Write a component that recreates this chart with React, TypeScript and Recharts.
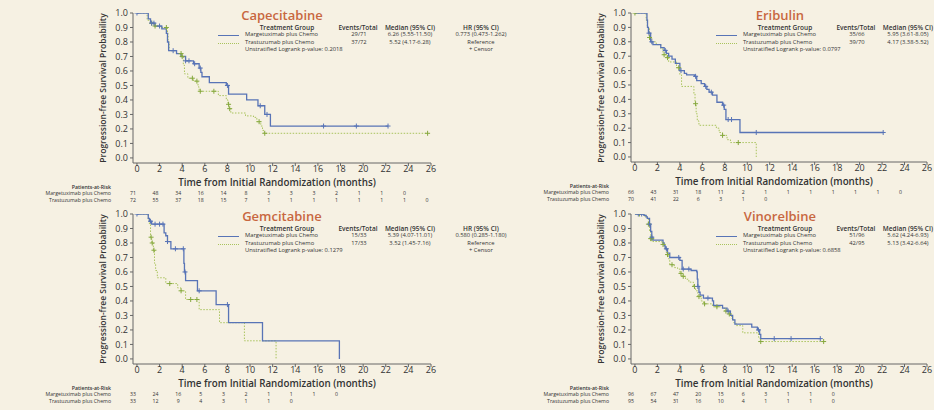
import React from "react";
import { ComposedChart, Line, Scatter, XAxis, YAxis } from "recharts";

const FONT = "'Open Sans', sans-serif";
const BLUE = "#5874b6";
const GREEN = "#a9c35c";
const GREEN_DARK = "#86a83e";
const TITLE = "#c8673f";
const INK = "#333333";

const monthTicks = [0, 2, 4, 6, 8, 10, 12, 14, 16, 18, 20, 22, 24, 26];
const probTicks = [0, 0.1, 0.2, 0.3, 0.4, 0.5, 0.6, 0.7, 0.8, 0.9, 1.0];

// Capecitabine
const capMargTime = [0, 1.0, 1.2, 1.6, 2.2, 2.6, 2.7, 2.8, 3.5, 3.9, 4.3, 5.0, 5.5, 5.65, 5.75, 6.4, 7.9, 8.1, 9.7, 10.7, 11.3, 11.8, 22.2];
const capMargSurv = [1.0, 0.96, 0.93, 0.91, 0.89, 0.86, 0.8, 0.74, 0.72, 0.7, 0.67, 0.65, 0.62, 0.59, 0.56, 0.52, 0.5, 0.44, 0.4, 0.36, 0.3, 0.22, 0.22];
const capMargCensor = [0, 1.3, 1.5, 2.0, 3.2, 4.3, 4.6, 5.1, 5.6, 8.0, 10.9, 11.5, 16.5, 19.4, 22.2];
const capTrasTime = [0, 0.9, 1.2, 1.5, 2.0, 2.7, 2.75, 2.85, 3.5, 4.0, 4.1, 4.2, 4.5, 5.0, 5.4, 5.5, 7.2, 7.9, 8.05, 8.15, 8.3, 9.6, 10.3, 10.6, 10.95, 11.1, 11.25, 25.7];
const capTrasSurv = [1.0, 0.95, 0.93, 0.91, 0.9, 0.86, 0.8, 0.74, 0.72, 0.7, 0.64, 0.58, 0.55, 0.53, 0.49, 0.46, 0.43, 0.4, 0.37, 0.34, 0.31, 0.29, 0.28, 0.25, 0.22, 0.19, 0.17, 0.17];
const capTrasCensor = [1.3, 1.6, 2.6, 3.9, 4.0, 4.9, 5.3, 5.6, 6.8, 8.1, 8.2, 10.8, 11.3, 25.7];
const capRiskMarg = [71, 48, 34, 16, 14, 8, 3, 3, 3, 2, 1, 1, 0];
const capRiskTras = [72, 55, 37, 18, 15, 7, 1, 1, 1, 1, 1, 1, 1, 0];
const capEvents = ["29/71", "37/72"];
const capMedian = ["6.26 (5.55-11.50)", "5.52 (4.17-6.28)"];
const capHR = ["0.773 (0.473-1.262)", "Reference"];

// Eribulin
const eriMargTime = [0, 1.07, 1.12, 1.2, 1.4, 1.6, 2.3, 2.6, 2.8, 3.0, 3.3, 3.6, 4.0, 4.4, 4.6, 5.3, 5.5, 5.9, 6.2, 6.4, 6.6, 6.9, 7.3, 7.8, 7.95, 8.1, 9.35, 22.1];
const eriMargSurv = [1.0, 0.95, 0.9, 0.86, 0.8, 0.78, 0.76, 0.74, 0.72, 0.7, 0.68, 0.65, 0.6, 0.58, 0.57, 0.56, 0.53, 0.51, 0.49, 0.47, 0.45, 0.43, 0.38, 0.36, 0.33, 0.26, 0.17, 0.17];
const eriMargCensor = [1.25, 1.5, 2.7, 4.1, 5.4, 6.3, 6.8, 7.9, 8.3, 8.6, 10.8, 22.1];
const eriTrasTime = [0, 1.0, 1.1, 1.3, 1.5, 1.9, 2.3, 2.5, 2.8, 3.0, 3.7, 4.0, 4.15, 5.25, 5.35, 5.45, 5.55, 5.7, 7.25, 7.5, 7.8, 8.2, 8.5, 10.8];
const eriTrasSurv = [1.0, 0.95, 0.9, 0.83, 0.8, 0.78, 0.75, 0.71, 0.69, 0.66, 0.62, 0.57, 0.49, 0.44, 0.37, 0.3, 0.25, 0.22, 0.2, 0.17, 0.15, 0.12, 0.1, 0.0];
const eriTrasCensor = [0, 1.3, 2.6, 2.9, 3.9, 5.4, 7.8, 9.2];
const eriRiskMarg = [66, 43, 31, 18, 11, 2, 1, 1, 1, 1, 1, 1, 0];
const eriRiskTras = [70, 41, 22, 6, 3, 1, 0];
const eriEvents = ["35/66", "39/70"];
const eriMedian = ["5.95 (3.61-8.05)", "4.17 (3.38-5.52)"];
const eriHR = ["0.686 (0.428-1.099)", "Reference"];

// Gemcitabine
const gemMargTime = [0, 1.0, 1.1, 1.3, 2.4, 2.55, 2.7, 3.0, 4.15, 4.2, 4.3, 5.35, 7.0, 8.1, 11.1, 17.9];
const gemMargSurv = [1.0, 0.97, 0.95, 0.93, 0.87, 0.85, 0.81, 0.76, 0.66, 0.6, 0.54, 0.47, 0.375, 0.25, 0.125, 0.0];
const gemMargCensor = [0, 1.2, 1.6, 2.0, 2.3, 2.7, 3.4, 4.1, 4.25, 5.5, 8.0];
const gemTrasTime = [0, 1.0, 1.1, 1.2, 1.3, 1.45, 1.55, 1.65, 1.8, 2.55, 3.6, 3.9, 4.3, 5.5, 7.3, 9.5, 12.3];
const gemTrasSurv = [1.0, 0.96, 0.93, 0.84, 0.8, 0.75, 0.66, 0.61, 0.56, 0.52, 0.49, 0.47, 0.41, 0.34, 0.25, 0.125, 0.0];
const gemTrasCensor = [1.25, 1.35, 1.5, 2.9, 3.9, 4.75, 5.3];
const gemRiskMarg = [33, 24, 16, 5, 3, 2, 1, 1, 1, 0];
const gemRiskTras = [33, 12, 9, 4, 3, 1, 1, 0];
const gemEvents = ["15/33", "17/33"];
const gemMedian = ["5.39 (4.07-11.01)", "3.52 (1.45-7.16)"];
const gemHR = ["0.580 (0.285-1.180)", "Reference"];

// Vinorelbine
const vinMargTime = [0, 0.8, 1.0, 1.1, 1.3, 1.4, 1.5, 1.6, 2.5, 2.6, 2.7, 2.9, 3.1, 4.0, 4.2, 5.0, 5.5, 5.55, 5.6, 5.7, 5.8, 6.1, 6.9, 7.0, 7.8, 8.2, 8.5, 8.7, 8.9, 10.4, 10.9, 11.1, 11.2, 16.5];
const vinMargSurv = [1.0, 0.99, 0.98, 0.97, 0.93, 0.88, 0.84, 0.82, 0.8, 0.78, 0.76, 0.73, 0.7, 0.68, 0.62, 0.61, 0.6, 0.55, 0.5, 0.46, 0.44, 0.42, 0.4, 0.37, 0.35, 0.33, 0.3, 0.27, 0.24, 0.22, 0.2, 0.17, 0.14, 0.14];
const vinMargCensor = [0.3, 0.6, 1.3, 1.5, 2.8, 3.9, 4.3, 4.8, 5.6, 6.5, 8.3, 11.0, 12.4, 13.9, 16.5];
const vinTrasTime = [0, 0.9, 1.1, 1.2, 1.3, 1.4, 1.6, 2.4, 2.7, 2.8, 3.0, 3.1, 3.5, 3.8, 4.0, 4.2, 4.5, 4.8, 5.2, 5.4, 5.6, 5.9, 6.1, 6.9, 7.8, 8.0, 8.3, 8.6, 8.8, 9.0, 9.6, 11.0, 11.15, 16.8];
const vinTrasSurv = [1.0, 0.98, 0.97, 0.93, 0.88, 0.83, 0.81, 0.79, 0.76, 0.72, 0.69, 0.65, 0.63, 0.62, 0.59, 0.57, 0.55, 0.53, 0.5, 0.47, 0.43, 0.4, 0.38, 0.36, 0.35, 0.33, 0.31, 0.28, 0.25, 0.23, 0.18, 0.15, 0.12, 0.12];
const vinTrasCensor = [0.4, 1.2, 1.4, 1.5, 2.5, 2.9, 3.3, 4.1, 4.3, 5.3, 5.7, 6.2, 7.3, 8.1, 8.4, 11.2, 16.8];
const vinRiskMarg = [96, 67, 47, 20, 15, 6, 3, 1, 1, 0];
const vinRiskTras = [95, 54, 31, 16, 10, 4, 1, 1, 1, 0];
const vinEvents = ["51/96", "42/95"];
const vinMedian = ["5.62 (4.24-6.93)", "5.13 (3.42-6.64)"];
const vinHR = ["1.083 (0.716-1.637)", "Reference"];

const steps = (time: number[], surv: number[]) => time.map((t, i) => ({ t, s: surv[i] }));
const censors = (marks: number[], time: number[], surv: number[]) =>
  marks.map((m) => {
    let idx = 0;
    time.forEach((t, i) => {
      if (t <= m) idx = i;
    });
    return { t: m, s: surv[idx] };
  });

const W = 467;
const H = 205;
const YW = 30; // room for y tick labels
const XH = 14; // room for x tick labels

const plus = (color: string) => (props: any) => {
  const { cx, cy } = props;
  return <path d={`M${cx - 2.5},${cy}h5M${cx},${cy - 2.5}v5`} stroke={color} strokeWidth={1} fill="none" />;
};

const Txt = ({ x, y, size, align = "left", bold = false, color = INK, children }: any) => (
  <div
    style={{
      position: "absolute",
      left: x,
      top: y,
      transform: `translate(${align === "center" ? "-50%" : align === "right" ? "-100%" : "0"}, -50%)`,
      whiteSpace: "nowrap",
      fontSize: size,
      fontWeight: bold ? 600 : 400,
      color,
      lineHeight: 1,
    }}
  >
    {children}
  </div>
);

const KMPanel = ({ frame, title, mt, ms, mc, tt, ts, tc, riskM, riskT, events, median, hr, pval }: any) => {
  const { left, top, axisX, rightX, topY, bottomY } = frame;
  const ppm = (rightX - axisX) / 26.35;
  const tx = (t: number) => axisX + (t + 0.35) * ppm;
  const x0 = tx(0);
  const rowY = [topY + 22, topY + 29.5, topY + 37];
  const riskY = [bottomY + 24.5, bottomY + 31, bottomY + 37.5];
  return (
    <div style={{ position: "absolute", left, top, width: W, height: H }}>
      <ComposedChart
        width={W}
        height={H}
        margin={{ left: axisX - YW, right: W - rightX, top: topY, bottom: H - bottomY - XH }}
      >
        <XAxis
          type="number"
          dataKey="t"
          domain={[-0.35, 26]}
          allowDataOverflow
          ticks={monthTicks}
          interval={0}
          height={XH}
          tickSize={3}
          tickMargin={0}
          stroke="#666"
          tick={{ fontSize: 9, fill: INK, fontFamily: FONT }}
        />
        <YAxis
          type="number"
          domain={[-0.035, 1]}
          allowDataOverflow
          ticks={probTicks}
          interval={0}
          width={YW}
          tickSize={3}
          stroke="#666"
          tickFormatter={(v: number) => v.toFixed(1)}
          tick={{ fontSize: 9, fill: INK, fontFamily: FONT }}
        />
        <Line data={steps(tt, ts)} dataKey="s" type="stepAfter" stroke={GREEN} strokeWidth={1} strokeDasharray="1.5 1.5" dot={false} isAnimationActive={false} />
        <Line data={steps(mt, ms)} dataKey="s" type="stepAfter" stroke={BLUE} strokeWidth={1.3} dot={false} isAnimationActive={false} />
        <Scatter data={censors(tc, tt, ts)} dataKey="s" shape={plus(GREEN_DARK)} isAnimationActive={false} />
        <Scatter data={censors(mc, mt, ms)} dataKey="s" shape={plus(BLUE)} isAnimationActive={false} />
      </ComposedChart>

      <div
        style={{
          position: "absolute",
          left: axisX - 31,
          top: (topY + bottomY) / 2,
          transform: "translate(-50%, -50%) rotate(-90deg)",
          whiteSpace: "nowrap",
          fontSize: 8.5,
          fontWeight: 600,
          color: INK,
        }}
      >
        Progression-free Survival Probability
      </div>
      <Txt x={(axisX + rightX) / 2 - 5} y={bottomY + 19.5} size={9.8} bold align="center">
        Time from Initial Randomization (months)
      </Txt>

      <Txt x={x0 + 145} y={topY + 2} size={13} bold align="center" color={TITLE}>
        {title}
      </Txt>
      <Txt x={x0 + 150} y={topY + 14.5} size={6.5} bold align="center">Treatment Group</Txt>
      <Txt x={x0 + 221} y={topY + 14.5} size={6.5} bold align="center">Events/Total</Txt>
      <Txt x={x0 + 273} y={topY + 14.5} size={6.5} bold align="center">Median (95% CI)</Txt>
      <Txt x={x0 + 344} y={topY + 14.5} size={6.5} bold align="center">HR (95% CI)</Txt>
      <div style={{ position: "absolute", left: x0 + 81, top: rowY[0], width: 21, borderTop: `1.3px solid ${BLUE}` }} />
      <div style={{ position: "absolute", left: x0 + 81, top: rowY[1], width: 21, borderTop: `1px dotted ${GREEN}` }} />
      <Txt x={x0 + 108} y={rowY[0]} size={5.8}>Margetuximab plus Chemo</Txt>
      <Txt x={x0 + 108} y={rowY[1]} size={5.8}>Trastuzumab plus Chemo</Txt>
      <Txt x={x0 + 108} y={rowY[2]} size={5.8}>Unstratified Logrank p-value: {pval}</Txt>
      {events.map((e: string, i: number) => (
        <Txt key={"e" + i} x={x0 + 222} y={rowY[i]} size={5.8} align="center">{e}</Txt>
      ))}
      {median.map((e: string, i: number) => (
        <Txt key={"m" + i} x={x0 + 273} y={rowY[i]} size={5.8} align="center">{e}</Txt>
      ))}
      {hr.map((e: string, i: number) => (
        <Txt key={"h" + i} x={x0 + 344} y={rowY[i]} size={5.8} align="center">{e}</Txt>
      ))}
      <Txt x={x0 + 344} y={rowY[2]} size={5.8} align="center">+ Censor</Txt>

      <Txt x={axisX - 22} y={riskY[0]} size={5.2} align="right" bold>Patients-at-Risk</Txt>
      <Txt x={axisX - 22} y={riskY[1]} size={5.2} align="right">Margetuximab plus Chemo</Txt>
      <Txt x={axisX - 22} y={riskY[2]} size={5.2} align="right">Trastuzumab plus Chemo</Txt>
      {riskM.map((n: number, i: number) => (
        <Txt key={"rm" + i} x={tx(i * 2) - 4} y={riskY[1]} size={5.2} align="center">{n}</Txt>
      ))}
      {riskT.map((n: number, i: number) => (
        <Txt key={"rt" + i} x={tx(i * 2) - 4} y={riskY[2]} size={5.2} align="center">{n}</Txt>
      ))}
    </div>
  );
};

const frames = [
  { left: 0, top: 0, axisX: 133, rightX: 431, topY: 13, bottomY: 163 },
  { left: 467, top: 0, axisX: 164, rightX: 460, topY: 13, bottomY: 162 },
  { left: 0, top: 205, axisX: 133, rightX: 431, topY: 9, bottomY: 159 },
  { left: 467, top: 205, axisX: 164, rightX: 460, topY: 9, bottomY: 159 },
];

export default function App() {
  return (
    <div
      style={{
        position: "absolute",
        left: 0,
        top: 0,
        width: 934,
        height: 410,
        overflow: "hidden",
        background: "#f6f1e3",
        fontFamily: FONT,
      }}
    >
      <KMPanel frame={frames[0]} title="Capecitabine" mt={capMargTime} ms={capMargSurv} mc={capMargCensor} tt={capTrasTime} ts={capTrasSurv} tc={capTrasCensor} riskM={capRiskMarg} riskT={capRiskTras} events={capEvents} median={capMedian} hr={capHR} pval="0.2018" />
      <KMPanel frame={frames[1]} title="Eribulin" mt={eriMargTime} ms={eriMargSurv} mc={eriMargCensor} tt={eriTrasTime} ts={eriTrasSurv} tc={eriTrasCensor} riskM={eriRiskMarg} riskT={eriRiskTras} events={eriEvents} median={eriMedian} hr={eriHR} pval="0.0797" />
      <KMPanel frame={frames[2]} title="Gemcitabine" mt={gemMargTime} ms={gemMargSurv} mc={gemMargCensor} tt={gemTrasTime} ts={gemTrasSurv} tc={gemTrasCensor} riskM={gemRiskMarg} riskT={gemRiskTras} events={gemEvents} median={gemMedian} hr={gemHR} pval="0.1279" />
      <KMPanel frame={frames[3]} title="Vinorelbine" mt={vinMargTime} ms={vinMargSurv} mc={vinMargCensor} tt={vinTrasTime} ts={vinTrasSurv} tc={vinTrasCensor} riskM={vinRiskMarg} riskT={vinRiskTras} events={vinEvents} median={vinMedian} hr={vinHR} pval="0.6858" />
    </div>
  );
}
